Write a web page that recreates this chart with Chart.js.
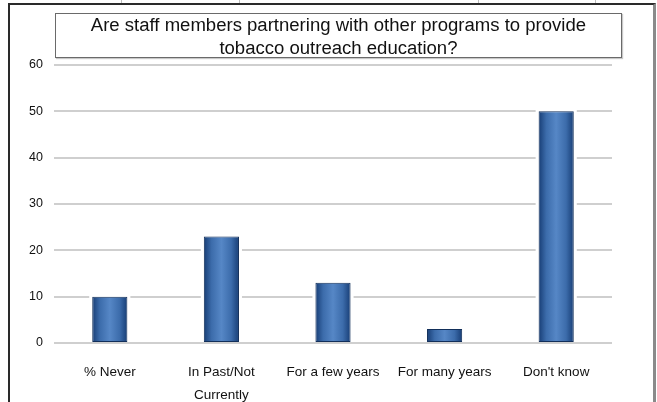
<!DOCTYPE html>
<html>
<head>
<meta charset="utf-8">
<script src="https://cdn.jsdelivr.net/npm/chart.js@4/dist/chart.umd.min.js"></script>
<style>
  html, body { margin: 0; padding: 0; background: #fff; }
  #wrap { position: relative; width: 657px; height: 402px; overflow: hidden; font-family: "Liberation Sans", Arial, sans-serif; }
  #frame { position: absolute; left: 8px; top: 3px; width: 643px; height: 420px;
           border-left: 2px solid #2a2a2a; border-top: 2px solid #2a2a2a; border-right: 3px solid #8a8a8a; }
  .cell { position: absolute; top: 0; width: 1px; height: 3px; background: #bdbdbd; }
  #title { position: absolute; left: 55px; top: 13px; width: 565px; height: 43px;
           border: 1px solid #6a6a6a; box-shadow: 1px 1px 1px #c8c8c8;
           text-align: center; font-size: 18px; line-height: 23px; color: #111; background: #fff; }
  #title span { display: inline-block; transform: scaleX(1.03); transform-origin: center; }
  canvas { position: absolute; left: 0; top: 0; }
</style>
</head>
<body>
<div id="wrap">
  <canvas id="c" width="657" height="402"></canvas>
  <div id="frame"></div>
  <div class="cell" style="left:121px"></div>
  <div class="cell" style="left:239px"></div>
  <div class="cell" style="left:478px"></div>
  <div class="cell" style="left:595px"></div>
  <div id="title"><span>Are staff members partnering with other programs to provide<br>tobacco outreach education?</span></div>
</div>
<script>
// Survey answers and their percentages
const categories = ['% Never', ['In Past/Not', 'Currently'], 'For a few years', 'For many years', "Don't know"];
const values = [10, 23, 13, 3, 50];
const yTicks = [0, 10, 20, 30, 40, 50, 60];

// Gives each bar a shaded fill and a thin white halo that breaks the gridlines around it
const barShading = {
  id: 'barShading',
  beforeDatasetsDraw(chart) {
    const ctx = chart.ctx;
    chart.getDatasetMeta(0).data.forEach(bar => {
      const half = bar.width / 2;
      const g = ctx.createLinearGradient(bar.x - half, 0, bar.x + half, 0);
      g.addColorStop(0, '#173d75');
      g.addColorStop(0.22, '#3c6cab');
      g.addColorStop(0.5, '#5687c6');
      g.addColorStop(0.78, '#3c6cab');
      g.addColorStop(1, '#173d75');
      bar.options.backgroundColor = g;
      ctx.save();
      ctx.fillStyle = '#ffffff';
      ctx.fillRect(bar.x - half - 3, bar.y - 3, bar.width + 6, bar.base - bar.y + 1);
      ctx.restore();
    });
  }
};

new Chart(document.getElementById('c'), {
  type: 'bar',
  data: {
    labels: categories,
    datasets: [{
      data: values,
      // scriptable so every bar keeps its own options object
      backgroundColor: () => '#4a7bbb',
      borderColor: '#122f5a',
      borderWidth: 1,
      borderSkipped: false,
      categoryPercentage: 0.5,
      barPercentage: 0.63
    }]
  },
  options: {
    responsive: false,
    animation: false,
    events: [],
    layout: { padding: { top: 65, right: 45, left: 0, bottom: 0 } },
    plugins: { legend: { display: false }, title: { display: false }, tooltip: { enabled: false } },
    scales: {
      x: {
        grid: { display: false },
        border: { display: false },
        ticks: {
          autoSkip: false, maxRotation: 0, padding: 10, color: '#111',
          font: { family: '"Liberation Sans", Arial, sans-serif', size: 13.5, lineHeight: 1.7 }
        },
        afterFit(scale) { scale.height = 59; }
      },
      y: {
        min: 0, max: 60,
        afterBuildTicks(scale) { scale.ticks = yTicks.map(v => ({ value: v })); },
        grid: { color: '#cfcfcf', lineWidth: 2, drawTicks: false },
        border: { display: false },
        ticks: {
          padding: 11, color: '#111',
          font: { family: '"Liberation Sans", Arial, sans-serif', size: 12.5 }
        },
        afterFit(scale) { scale.width = 54; }
      }
    }
  },
  plugins: [barShading]
});
</script>
</body>
</html>
